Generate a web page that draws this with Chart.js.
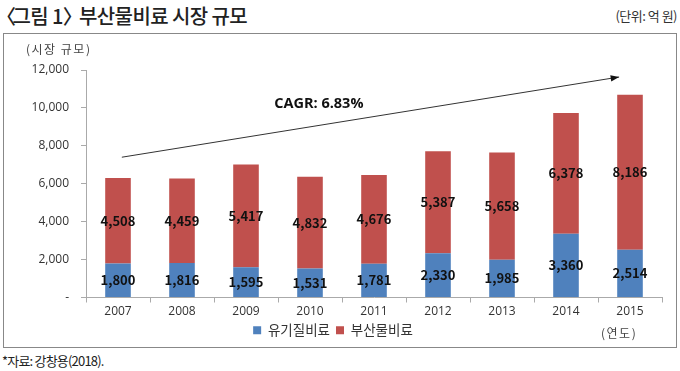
<!DOCTYPE html>
<html>
<head>
<meta charset="utf-8">
<script src="https://cdn.jsdelivr.net/npm/chart.js@4"></script>
<style>
  body { margin: 0; width: 680px; height: 371px; background: #fff; position: relative; overflow: hidden;
         font-family: "Noto Sans CJK KR", "Noto Sans", sans-serif; color: #222; }
  #titulo { position: absolute; left: 0px; top: 1px; font-size: 20px; font-weight: 500; letter-spacing: -0.6px; }
  #titulo .abre { margin-left: -4px; margin-right: -3px; }
  #titulo .cierra { margin-right: -7px; }
  #unidad { position: absolute; right: 3px; top: 6px; font-size: 13px; color: #333; letter-spacing: -0.5px; }
  #caja { position: absolute; left: 3px; top: 33px; width: 672px; height: 313px; border: 1.5px solid #888; }
  #grafico { position: absolute; left: 0; top: 0; }
  #ejeY { position: absolute; left: 22px; top: 6px; font-size: 12px; color: #444; letter-spacing: 1.5px; }
  #ejeX { position: absolute; left: 597px; top: 290px; font-size: 12px; color: #444; letter-spacing: 1.5px; }
  #fuente { position: absolute; left: 2px; top: 351px; font-size: 13px; letter-spacing: -0.8px; }
</style>
</head>
<body>
<div id="titulo"><span class="abre">〈</span>그림 1<span class="cierra">〉</span> 부산물비료 시장 규모</div>
<div id="unidad">(단위: 억 원)</div>
<div id="caja">
  <canvas id="graficoMercado" width="672" height="313"></canvas>
  <div id="ejeY">(시장 규모)</div>
  <div id="ejeX">(연도)</div>
</div>
<div id="fuente">*자료: 강창용(2018).</div>

<script>
const anios = ['2007', '2008', '2009', '2010', '2011', '2012', '2013', '2014', '2015'];
const organicos = [1800, 1816, 1595, 1531, 1781, 2330, 1985, 3360, 2514];
const subproductos = [4508, 4459, 5417, 4832, 4676, 5387, 5658, 6378, 8186];
const ticksY = [0, 2000, 4000, 6000, 8000, 10000, 12000];
// flecha CAGR: [indice categoria, valor]
const flechaInicio = [0.06, 7400];
const flechaFin = [7.83, 11630];
const textoCagr = 'CAGR: 6.83%';
const posCagr = [2.44, 10200];

const etiquetas = {
    id: 'etiquetas',
    afterDatasetsDraw(chart) {
        const ctx = chart.ctx;
        ctx.save();
        ctx.font = 'bold 13px "Noto Sans CJK KR", sans-serif';
        ctx.fillStyle = '#111';
        ctx.textAlign = 'center';
        ctx.textBaseline = 'middle';
        chart.data.datasets.forEach((ds, i) => {
            const meta = chart.getDatasetMeta(i);
            meta.data.forEach((bar, j) => {
                const y = (bar.y + bar.base) / 2;
                ctx.fillText(ds.data[j].toLocaleString('en-US'), bar.x, y);
            });
        });

        // flecha
        const x = chart.scales.x, yS = chart.scales.y;
        const x0 = x.getPixelForValue(flechaInicio[0]), y0 = yS.getPixelForValue(flechaInicio[1]);
        const x1 = x.getPixelForValue(flechaFin[0]), y1 = yS.getPixelForValue(flechaFin[1]);
        ctx.strokeStyle = '#333';
        ctx.lineWidth = 1;
        ctx.beginPath();
        ctx.moveTo(x0, y0);
        ctx.lineTo(x1, y1);
        ctx.stroke();
        const ang = Math.atan2(y1 - y0, x1 - x0);
        ctx.fillStyle = '#111';
        ctx.beginPath();
        ctx.moveTo(x1, y1);
        ctx.lineTo(x1 - 9 * Math.cos(ang - 0.35), y1 - 9 * Math.sin(ang - 0.35));
        ctx.lineTo(x1 - 9 * Math.cos(ang + 0.35), y1 - 9 * Math.sin(ang + 0.35));
        ctx.closePath();
        ctx.fill();

        ctx.font = 'bold 14.5px "Open Sans", sans-serif';
        ctx.fillStyle = '#111';
        ctx.textAlign = 'left';
        ctx.fillText(textoCagr, x.getPixelForValue(posCagr[0]), yS.getPixelForValue(posCagr[1]));
        ctx.restore();
    }
};

new Chart(document.getElementById('graficoMercado').getContext('2d'), {
    type: 'bar',
    data: {
        labels: anios,
        datasets: [{
            label: '유기질비료',
            data: organicos,
            backgroundColor: '#4f81bd',
            barPercentage: 0.4,
            categoryPercentage: 1
        }, {
            label: '부산물비료',
            data: subproductos,
            backgroundColor: '#c0504d',
            barPercentage: 0.4,
            categoryPercentage: 1
        }]
    },
    options: {
        responsive: false,
        animation: false,
        layout: {
            padding: { top: 36, right: 14, left: 0, bottom: 0 }
        },
        scales: {
            x: {
                stacked: true,
                grid: { drawOnChartArea: false, tickLength: 5, color: '#aaa', offset: true },
                border: { color: '#aaa' },
                ticks: { color: '#333', font: { size: 12, family: '"Open Sans", sans-serif' }, padding: 2 },
                afterFit(scale) { scale.height = 20; }
            },
            y: {
                stacked: true,
                min: 0,
                max: 12000,
                afterBuildTicks(scale) { scale.ticks = ticksY.map(v => ({ value: v })); },
                grid: { drawOnChartArea: false, tickLength: 5, color: '#aaa' },
                border: { color: '#aaa' },
                ticks: {
                    color: '#333',
                    padding: 12,
                    font: { size: 12, family: '"Open Sans", sans-serif' },
                    callback: v => v === 0 ? '-' : v.toLocaleString('en-US')
                },
                afterFit(scale) { scale.width = 82; }
            }
        },
        plugins: {
            legend: {
                position: 'bottom',
                labels: {
                    boxWidth: 8,
                    boxHeight: 8,
                    padding: 6,
                    color: '#333',
                    font: { size: 13.5, family: '"Noto Sans CJK KR", sans-serif' }
                }
            },
            tooltip: { enabled: false }
        }
    },
    plugins: [etiquetas]
});
</script>
</body>
</html>
